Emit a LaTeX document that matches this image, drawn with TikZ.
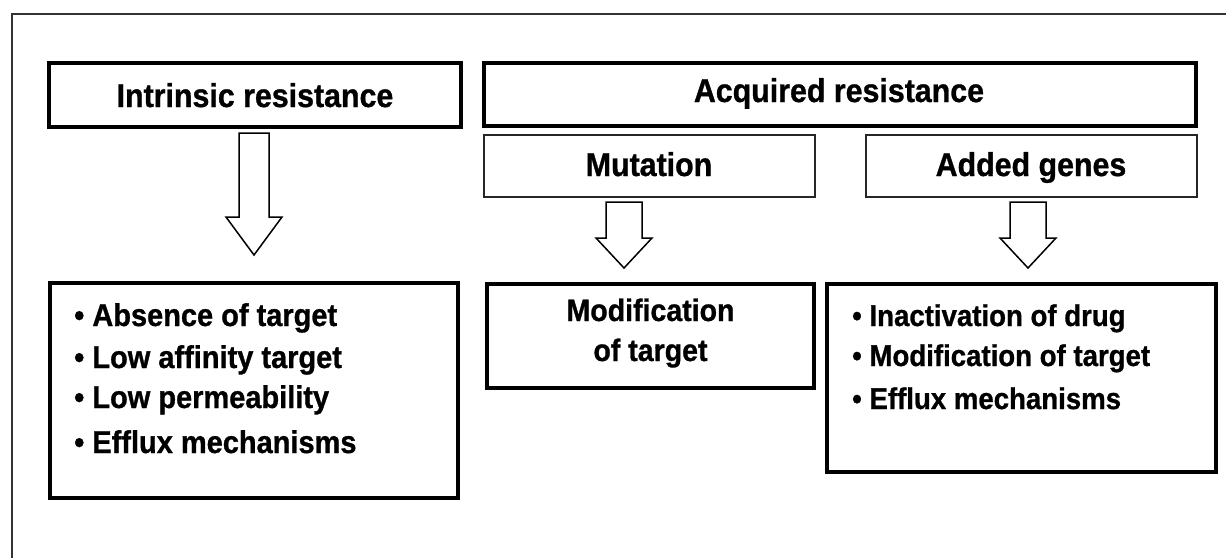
\documentclass[tikz,border=0pt]{standalone}
\usepackage{fontspec}
\setmainfont{Liberation Sans}
\newfontfamily\boxfont{Liberation Sans Bold}[FakeStretch=0.92,FakeBold=0.9]
\usetikzlibrary{calc}

% hollow block arrow from #1 (top of shaft) to #2 (tip);
% #3 half shaft width, #4 half head width, #5 head length (all in pt)
\newcommand{\blockarrow}[5]{%
  \draw[hollow] let \p1=(#1), \p2=(#2) in
    (\x1-#3pt,\y1) -- (\x1+#3pt,\y1) -- (\x1+#3pt,\y2+#5pt) --
    (\x1+#4pt,\y2+#5pt) -- (\x2,\y2) -- (\x1-#4pt,\y2+#5pt) --
    (\x1-#3pt,\y2+#5pt) -- cycle;}

\begin{document}
\begin{tikzpicture}[x=1pt,y=-1pt,
  thickbox/.style={draw=black,line width=3.5pt,rectangle,inner sep=0pt},
  thinbox/.style={draw=black!85,line width=2pt,rectangle,inner sep=0pt},
  title/.style={font=\boxfont\fontsize{33}{38}\selectfont,inner sep=0pt,anchor=base},
  item/.style={font=\boxfont\fontsize{31.5}{36}\selectfont,inner sep=0pt,anchor=base west},
  itemr/.style={font=\boxfont\fontsize{30}{36}\selectfont,inner sep=0pt,anchor=base west},
  centred/.style={font=\boxfont\fontsize{31}{36}\selectfont,inner sep=0pt,anchor=base},
  hollow/.style={draw=black,line width=1.5pt,fill=white,line join=miter},
  frame/.style={draw=black!80,line width=2pt}]

\useasboundingbox (0,0) rectangle (1226,558);
\fill[white] (0,0) rectangle (1226,558);

% outer frame: only top and left edges are visible
\coordinate (fr-bl) at (12,558);
\coordinate (fr-tl) at (12,14);
\coordinate (fr-tr) at (1226,14);
\draw[frame] (fr-bl) -- (fr-tl) -- (fr-tr);

% header boxes
\node[thickbox,minimum width=412pt,minimum height=64pt] (intr) at (255,95) {};
\node[thickbox,minimum width=712pt,minimum height=63pt] (acq) at (840,94.5) {};
\node[thinbox,minimum width=331pt,minimum height=62pt] (mut) at (649,165.5) {};
\node[thinbox,minimum width=331pt,minimum height=62pt] (add) at (1031,165.5) {};

\node[title] (intr-t) at (255,107) {Intrinsic resistance};
\node[title] (acq-t) at (839,102) {Acquired resistance};
\node[title] (mut-t) at (649,176) {Mutation};
\node[title] (add-t) at (1031,176) {Added genes};

% result boxes
\node[thickbox,minimum width=408pt,minimum height=215pt] (intr-r) at (254,390.5) {};
\node[thickbox,minimum width=327pt,minimum height=104pt] (mut-r) at (650.5,336) {};
\node[thickbox,minimum width=389pt,minimum height=188pt] (add-r) at (1021.5,378) {};

\node[item] (i1) at (74,326) {•~Absence of target};
\node[item] (i2) at (74,368) {•~Low affinity target};
\node[item] (i3) at (74,408) {•~Low permeability};
\node[item] (i4) at (74,453) {•~Efflux mechanisms};

\node[centred] (m1) at (650.5,321) {Modification};
\node[centred] (m2) at (650.5,361) {of target};

\node[itemr] (a1) at (852,326) {•~Inactivation of drug};
\node[itemr] (a2) at (852,366) {•~Modification of target};
\node[itemr] (a3) at (852,409) {•~Efflux mechanisms};

% hollow arrows between header and result boxes
\coordinate (ia-top) at (254,133);
\coordinate (ia-tip) at (254,255);
\coordinate (ma-top) at (624,202);
\coordinate (ma-tip) at (624,268);
\coordinate (aa-top) at (1028,202);
\coordinate (aa-tip) at (1028,268);
\blockarrow{ia-top}{ia-tip}{15}{28}{38}
\blockarrow{ma-top}{ma-tip}{18}{28}{30}
\blockarrow{aa-top}{aa-tip}{18}{28}{30}
\end{tikzpicture}
\end{document}
